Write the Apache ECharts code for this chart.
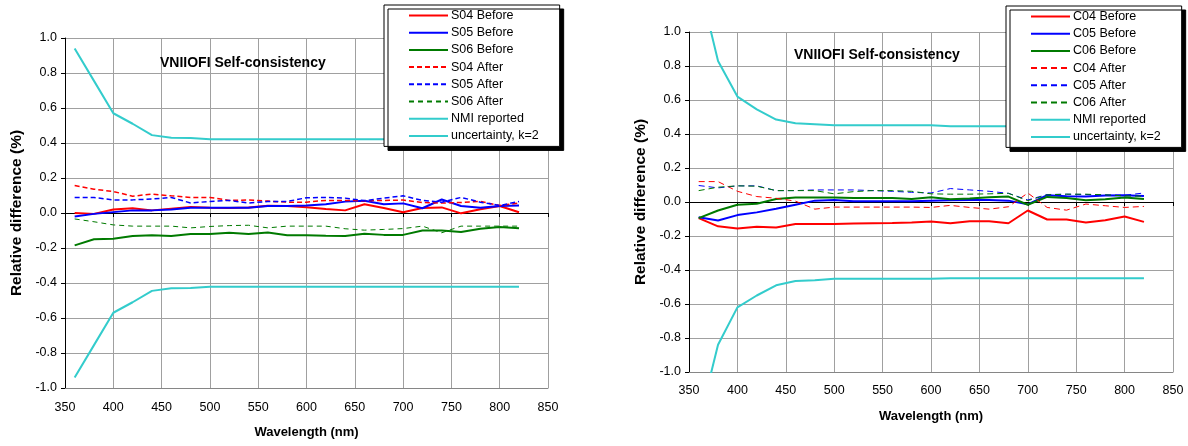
<!DOCTYPE html>
<html>
<head>
<meta charset="utf-8">
<script src="https://cdn.jsdelivr.net/npm/echarts@6/dist/echarts.min.js"></script>
<style>
  html, body { margin: 0; padding: 0; background: #fff; }
  #chart { width: 1188px; height: 446px; }
</style>
</head>
<body>
<div id="chart"></div>
<script>
// Wavelengths (nm) of the measurement points
const wavelengths = [360, 380, 400, 420, 440, 460, 480, 500, 520, 540, 560, 580,
                     600, 620, 640, 660, 680, 700, 720, 740, 760, 780, 800, 820];

// Left panel: S-lamps, relative difference (%)
const s04Before = [0.0, -0.005, 0.02, 0.027, 0.015, 0.025, 0.035, 0.03, 0.028, 0.032, 0.042, 0.04,
                   0.033, 0.023, 0.015, 0.05, 0.028, 0.004, 0.028, 0.032, -0.002, 0.022, 0.04, 0.004];
const s05Before = [-0.02, -0.005, 0.005, 0.015, 0.015, 0.02, 0.03, 0.03, 0.03, 0.03, 0.04, 0.04,
                   0.043, 0.05, 0.065, 0.07, 0.05, 0.055, 0.027, 0.077, 0.04, 0.03, 0.04, 0.043];
const s06Before = [-0.185, -0.15, -0.147, -0.132, -0.127, -0.132, -0.12, -0.12, -0.113, -0.12, -0.112, -0.127,
                   -0.127, -0.13, -0.132, -0.118, -0.125, -0.125, -0.1, -0.1, -0.108, -0.09, -0.08, -0.087];
const s04After = [0.157, 0.136, 0.123, 0.096, 0.108, 0.098, 0.089, 0.089, 0.072, 0.074, 0.068, 0.062,
                  0.062, 0.072, 0.072, 0.07, 0.072, 0.074, 0.06, 0.057, 0.06, 0.066, 0.043, 0.057];
const s05After = [0.089, 0.089, 0.075, 0.075, 0.08, 0.089, 0.057, 0.066, 0.072, 0.057, 0.066, 0.066,
                  0.087, 0.089, 0.085, 0.07, 0.085, 0.098, 0.072, 0.062, 0.089, 0.062, 0.043, 0.066];
const s06After = [-0.034, -0.05, -0.068, -0.075, -0.075, -0.075, -0.085, -0.077, -0.072, -0.07, -0.085, -0.075,
                  -0.075, -0.075, -0.09, -0.098, -0.094, -0.089, -0.075, -0.113, -0.075, -0.075, -0.075, -0.075];
const sNmiUpper = [0.94, 0.755, 0.57, 0.51, 0.445, 0.43, 0.428, 0.422, 0.422, 0.422, 0.422, 0.422,
                   0.422, 0.422, 0.422, 0.422, 0.422, 0.422, 0.422, 0.422, 0.422, 0.422, 0.422, 0.422];
const sNmiLower = [-0.94, -0.755, -0.57, -0.51, -0.445, -0.43, -0.428, -0.422, -0.422, -0.422, -0.422, -0.422,
                   -0.422, -0.422, -0.422, -0.422, -0.422, -0.422, -0.422, -0.422, -0.422, -0.422, -0.422, -0.422];

// Right panel: C-lamps, relative difference (%)
const c04Before = [-0.095, -0.143, -0.156, -0.145, -0.15, -0.13, -0.13, -0.13, -0.127, -0.125, -0.123, -0.12,
                   -0.115, -0.125, -0.113, -0.113, -0.125, -0.05, -0.103, -0.103, -0.12, -0.107, -0.085, -0.117];
const c05Before = [-0.09, -0.109, -0.077, -0.061, -0.04, -0.016, 0.008, 0.012, 0.004, 0.004, 0.004, 0.004,
                   0.008, 0.01, 0.012, 0.012, 0.008, -0.014, 0.04, 0.034, 0.032, 0.038, 0.04, 0.036];
const c06Before = [-0.095, -0.05, -0.016, -0.01, 0.018, 0.026, 0.026, 0.026, 0.024, 0.024, 0.024, 0.018,
                   0.028, 0.016, 0.02, 0.028, 0.032, -0.016, 0.03, 0.024, 0.01, 0.016, 0.026, 0.018];
const c04After = [0.12, 0.12, 0.063, 0.032, 0.022, 0.005, -0.042, -0.03, -0.03, -0.03, -0.03, -0.03,
                  -0.032, -0.02, -0.032, -0.042, -0.028, 0.053, -0.032, -0.048, -0.012, -0.022, -0.032, -0.026];
const c05After = [0.097, 0.083, 0.095, 0.095, 0.067, 0.067, 0.071, 0.071, 0.071, 0.067, 0.063, 0.057,
                  0.053, 0.079, 0.071, 0.063, 0.051, 0.012, 0.044, 0.046, 0.044, 0.042, 0.04, 0.053];
const c06After = [0.067, 0.087, 0.095, 0.093, 0.067, 0.067, 0.067, 0.048, 0.061, 0.067, 0.067, 0.063,
                  0.048, 0.046, 0.046, 0.048, 0.051, 0.008, 0.042, 0.046, 0.046, 0.042, 0.036, 0.034];
const cNmiUpper = [1.3, 0.83, 0.62, 0.545, 0.485, 0.463, 0.458, 0.452, 0.452, 0.452, 0.452, 0.452,
                   0.452, 0.445, 0.445, 0.445, 0.445, 0.445, 0.445, 0.445, 0.445, 0.445, 0.445, 0.445];
const cNmiLower = [-1.3, -0.84, -0.62, -0.55, -0.49, -0.465, -0.46, -0.452, -0.452, -0.452, -0.452, -0.452,
                   -0.452, -0.448, -0.448, -0.448, -0.448, -0.448, -0.448, -0.448, -0.448, -0.448, -0.448, -0.448];

const chartTitle = 'VNIIOFI Self-consistency';
const xTitle = 'Wavelength (nm)';
const yTitle = 'Relative difference (%)';
const nmiName = 'NMI reported';
const uncName = 'uncertainty, k=2';

const RED = '#ff0000', BLUE = '#0000ff', GREEN = '#007a00', CYAN = '#33cccc';
const FONT = '"Liberation Sans", Arial, sans-serif';

const pairs = vals => wavelengths.map((w, i) => [w, vals[i]]);

function line(name, vals, color, width, dash, xIdx, yIdx) {
  return {
    type: 'line', name, data: pairs(vals),
    xAxisIndex: xIdx, yAxisIndex: yIdx,
    symbol: 'none', showSymbol: false, animation: false,
    lineStyle: { color, width, type: dash || 'solid', cap: 'butt' },
    itemStyle: { color }
  };
}

function valueX(gridIndex, labelMargin) {
  return [
    { // labelled axis along the bottom edge
      type: 'value', gridIndex, position: 'bottom', min: 350, max: 850, interval: 50,
      axisLine: { onZero: false, lineStyle: { color: '#868686', width: 1 } },
      axisTick: { show: false },
      axisLabel: { margin: labelMargin, color: '#000', fontFamily: FONT, fontSize: 12.5 },
      splitLine: { show: true, lineStyle: { color: '#a0a0a0', width: 1 } },
      name: xTitle, nameLocation: 'middle', nameGap: 38,
      nameTextStyle: { fontFamily: FONT, fontWeight: 'bold', fontSize: 13, color: '#000' }
    },
    { // zero line with its tick marks
      type: 'value', gridIndex, position: 'bottom', min: 350, max: 850, interval: 50,
      axisLine: { onZero: true, lineStyle: { color: '#000', width: 1 } },
      axisTick: { show: true, length: 4, lineStyle: { color: '#000' } },
      axisLabel: { show: false }, splitLine: { show: false }
    }
  ];
}

function valueY(gridIndex) {
  return {
    type: 'value', gridIndex, min: -1, max: 1, interval: 0.2,
    axisLine: { show: true, lineStyle: { color: '#000', width: 1 } },
    axisTick: { show: true, length: 4, lineStyle: { color: '#000' } },
    axisLabel: {
      margin: 8, color: '#000', fontFamily: FONT, fontSize: 12.5,
      formatter: v => (Math.abs(v) < 1e-9 ? 0 : v).toFixed(1)
    },
    splitLine: { show: true, lineStyle: { color: '#a0a0a0', width: 1 } },
    name: yTitle, nameLocation: 'middle', nameGap: 40, nameRotate: 90,
    nameTextStyle: { fontFamily: FONT, fontWeight: 'bold', fontSize: 15.5, color: '#000' }
  };
}

function legend(names, left, top) {
  return {
    data: names, orient: 'vertical', left, top,
    backgroundColor: '#fff', borderColor: '#000', borderWidth: 1,
    shadowColor: '#000', shadowBlur: 0, shadowOffsetX: 4, shadowOffsetY: 4,
    padding: [4, 21, 4, 24], itemWidth: 39, itemHeight: 12, itemGap: 4.2,
    selectedMode: false,
    itemStyle: { opacity: 0 },
    textStyle: { fontFamily: FONT, fontSize: 12.5, color: '#000', padding: [0, 0, 0, -2] }
  };
}

const sNames = ['S04 Before', 'S05 Before', 'S06 Before', 'S04 After', 'S05 After', 'S06 After', nmiName, uncName];
const cNames = ['C04 Before', 'C05 Before', 'C06 Before', 'C04 After', 'C05 After', 'C06 After', nmiName, uncName];

const option = {
  backgroundColor: '#fff',
  animation: false,
  title: [
    { text: chartTitle, left: 155, top: 51, textStyle: { fontFamily: FONT, fontWeight: 'bold', fontSize: 14, color: '#000' } },
    { text: chartTitle, left: 789, top: 43, textStyle: { fontFamily: FONT, fontWeight: 'bold', fontSize: 14, color: '#000' } }
  ],
  grid: [
    { left: 65, top: 38, width: 483, height: 350 },
    { left: 689, top: 32, width: 484, height: 340 }
  ],
  xAxis: [...valueX(0, 13), ...valueX(1, 12)],
  yAxis: [valueY(0), valueY(1)],
  legend: [legend(sNames, 384, 5), legend(cNames, 1006, 6)],
  series: [
    line('S04 Before', s04Before, RED, 2, 'solid', 0, 0),
    line('S05 Before', s05Before, BLUE, 2, 'solid', 0, 0),
    line('S06 Before', s06Before, GREEN, 2, 'solid', 0, 0),
    line('S04 After', s04After, RED, 1.5, [5, 3], 0, 0),
    line('S05 After', s05After, BLUE, 1.5, [5, 3], 0, 0),
    line('S06 After', s06After, GREEN, 1, [5, 4], 0, 0),
    line(nmiName, sNmiUpper, CYAN, 2, 'solid', 0, 0),
    line(uncName, sNmiLower, CYAN, 2, 'solid', 0, 0),

    line('C04 Before', c04Before, RED, 2, 'solid', 2, 1),
    line('C05 Before', c05Before, BLUE, 2, 'solid', 2, 1),
    line('C06 Before', c06Before, GREEN, 2, 'solid', 2, 1),
    line('C04 After', c04After, RED, 1, [6, 4], 2, 1),
    line('C05 After', c05After, BLUE, 1, [6, 4], 2, 1),
    line('C06 After', c06After, GREEN, 1, [6, 4], 2, 1),
    line(nmiName, cNmiUpper, CYAN, 2, 'solid', 2, 1),
    line(uncName, cNmiLower, CYAN, 2, 'solid', 2, 1)
  ]
};

const chart = echarts.init(document.getElementById('chart'), null, { renderer: 'canvas' });
chart.setOption(option);
</script>
</body>
</html>
